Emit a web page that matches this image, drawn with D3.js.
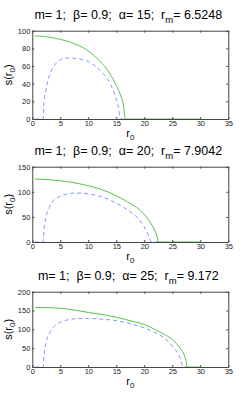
<!DOCTYPE html>
<html>
<head>
<meta charset="utf-8">
<script src="https://cdn.jsdelivr.net/npm/d3@7"></script>
<style>
  body { margin: 0; background: #fff; }
  svg { display: block; font-family: "Liberation Sans", Arial, sans-serif; }
  .axis path, .axis line { stroke: #444; }
  .axis text { font-size: 7.5px; fill: #222; font-family: "Liberation Sans", Arial, sans-serif; }
  .title { white-space: pre; }
</style>
</head>
<body>
<svg width="252" height="414"></svg>
<script>
// parameters shown in each title
var alphas = [15, 20, 25];
var rmValues = ["6.5248", "7.9042", "9.172"];
var yMaxes = [100, 150, 200];
var yTicks = [[0, 20, 40, 60, 80, 100], [0, 50, 100, 150], [0, 50, 100, 150, 200]];
var xTicks = [0, 5, 10, 15, 20, 25, 30, 35];

// solid green curves  [r0, s]
var solid15 = [[0.5, 94], [2, 93.5], [4, 91.5], [6, 88.5], [8, 84], [10, 77], [12, 66], [13, 59], [14, 50], [15, 38], [15.8, 26], [16.3, 15], [16.6, 0], [30, 0]];
var solid20 = [[0.5, 125.5], [3, 124], [5, 122], [7, 119], [10, 112], [12, 106], [15, 92], [17, 80], [18.6, 69], [20, 55], [21, 40], [21.9, 22], [22.3, 10], [22.5, 0], [30, 0]];
var solid25 = [[0.5, 158.5], [5, 156], [8, 150], [10, 145], [13, 138], [15, 132], [18, 121], [20, 113], [22, 99], [23.4, 88], [25, 73], [25.8, 61], [26.6, 46], [27.1, 33], [27.4, 20], [27.7, 0], [30, 0]];

// dashed blue curves  [r0, s]
var dashed15 = [[0.5, 0], [1.95, 0], [2.1, 20], [2.4, 32], [3, 48], [4, 61], [5, 67], [6, 69], [7, 69], [8, 68.5], [9, 67], [10, 65], [11, 61], [12, 56], [13, 49], [14, 39], [15, 22], [15.4, 13], [15.7, 0], [16.6, 0]];
var dashed20 = [[0.5, 0], [1.95, 0], [2.1, 25], [2.5, 52], [3, 68], [3.5, 79], [5, 91], [6, 95], [7, 97], [8, 97.5], [9, 97], [10, 96], [12, 91], [14, 83], [16, 71], [18, 56], [19, 46], [20, 30], [20.7, 15], [21.3, 0], [22.5, 0]];
var dashed25 = [[0.5, 0], [1.95, 0], [2.1, 30], [2.4, 62], [3, 88], [3.5, 100], [5, 119], [6, 124], [8, 128.5], [10, 129], [12, 127.5], [15, 123], [18, 113], [20, 104], [22, 91], [23.4, 79], [24.5, 64], [25.2, 52], [26, 36], [26.5, 20], [26.9, 0], [27.7, 0]];

var solids = [solid15, solid20, solid25];
var dashes = [dashed15, dashed20, dashed25];

var svg = d3.select("svg");
var left = 32.3, right = 228.3;
var boxes = [[30.7, 119], [166.7, 242], [291.7, 367]]; // top, bottom of each axes box

var x = d3.scaleLinear().domain([0, 35]).range([left, right]);

alphas.forEach(function (alpha, i) {
    var top = boxes[i][0], bottom = boxes[i][1];
    var y = d3.scaleLinear().domain([0, yMaxes[i]]).range([bottom, top]);
    var g = svg.append("g");

    var line = d3.line()
        .curve(d3.curveMonotoneX)
        .x(function (d) { return x(d[0]); })
        .y(function (d) { return y(d[1]); });

    g.append("path") //dashed curve first so the green sits on top
        .attr("d", line(dashes[i]))
        .attr("fill", "none")
        .attr("stroke", "#8495ff")
        .attr("stroke-width", 1)
        .attr("stroke-dasharray", "4,3");

    g.append("path")
        .attr("d", line(solids[i]))
        .attr("fill", "none")
        .attr("stroke", "#55c44b")
        .attr("stroke-width", 1);

    // matlab style box with inward ticks on all four sides
    g.append("g").attr("class", "axis")
        .attr("transform", "translate(0," + bottom + ")")
        .call(d3.axisBottom(x).tickValues(xTicks).tickSizeInner(-2).tickSizeOuter(0).tickPadding(2));
    g.append("g").attr("class", "axis")
        .attr("transform", "translate(0," + top + ")")
        .call(d3.axisTop(x).tickValues(xTicks).tickSizeInner(-2).tickSizeOuter(0).tickFormat(""));
    g.append("g").attr("class", "axis")
        .attr("transform", "translate(" + left + ",0)")
        .call(d3.axisLeft(y).tickValues(yTicks[i]).tickSizeInner(-2).tickSizeOuter(0).tickPadding(2));
    g.append("g").attr("class", "axis")
        .attr("transform", "translate(" + right + ",0)")
        .call(d3.axisRight(y).tickValues(yTicks[i]).tickSizeInner(-2).tickSizeOuter(0).tickFormat(""));

    // title
    var t = g.append("text")
        .attr("class", "title")
        .attr("x", (left + right) / 2 - 2)
        .attr("y", top - 12)
        .attr("text-anchor", "middle")
        .style("font-size", "12.5px")
        .attr("fill", "#000");
    t.append("tspan").text("m= 1;  \u03b2= 0.9;  \u03b1= " + alpha + ";  r");
    t.append("tspan").attr("dy", 4).style("font-size", "9.5px").text("m");
    t.append("tspan").attr("dy", -4).text("= " + rmValues[i]);

    // x label
    var xl = g.append("text")
        .attr("x", (left + right) / 2)
        .attr("y", bottom + 18)
        .attr("text-anchor", "middle")
        .style("font-size", "11px");
    xl.append("tspan").text("r");
    xl.append("tspan").attr("dy", 3).style("font-size", "8px").text("0");

    // y label
    var yl = g.append("text")
        .attr("transform", "translate(12," + (top + bottom) / 2 + ") rotate(-90)")
        .attr("text-anchor", "middle")
        .style("font-size", "11px");
    yl.append("tspan").text("s(r");
    yl.append("tspan").attr("dy", 3).style("font-size", "8px").text("0");
    yl.append("tspan").attr("dy", -3).text(")");
});
</script>
</body>
</html>
